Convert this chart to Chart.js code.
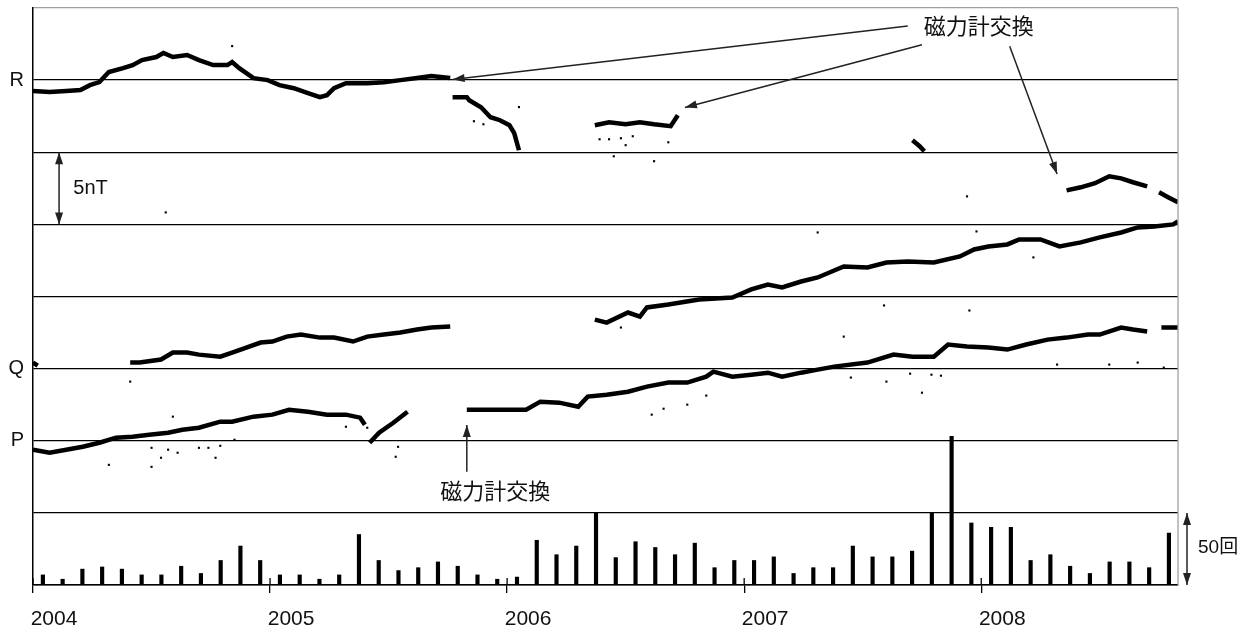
<!DOCTYPE html>
<html>
<head>
<meta charset="utf-8">
<script src="https://cdn.jsdelivr.net/npm/chart.js@4.4.1/dist/chart.umd.min.js"></script>
<style>
  html, body { margin: 0; padding: 0; background: #fff; }
  #wrap { width: 1253px; height: 634px; }
</style>
</head>
<body>
<div id="wrap"><canvas id="grafico"></canvas></div>
<script>
// 年の目盛り
const yearTicks = [2004, 2005, 2006, 2007, 2008];

// 各観測点の基準線 (nT, 5nT 間隔の段)
const laneNames = { 35: 'R', 15: 'Q', 10: 'P' };

// R 観測点: [年, 基準線からの差 nT]  null は欠測
const rTrace = [
  [2004.00,-0.76],[2004.07,-0.83],[2004.14,-0.76],[2004.20,-0.69],[2004.24,-0.35],[2004.28,-0.14],
  [2004.32,0.56],[2004.38,0.83],[2004.42,1.04],[2004.46,1.39],[2004.52,1.60],[2004.55,1.88],
  [2004.59,1.60],[2004.65,1.74],[2004.70,1.39],[2004.76,1.04],[2004.82,1.04],[2004.84,1.25],
  [2004.87,0.83],[2004.93,0.14],[2004.99,0.00],[2005.04,-0.35],[2005.10,-0.56],[2005.16,-0.90],
  [2005.21,-1.18],[2005.24,-1.04],[2005.27,-0.56],[2005.32,-0.21],[2005.41,-0.21],[2005.48,-0.14],
  [2005.55,0.00],[2005.62,0.14],[2005.68,0.28],[2005.76,0.14],
  [2005.765,null],
  [2005.77,-1.18],[2005.83,-1.18],[2005.84,-1.39],[2005.89,-1.88],[2005.93,-2.57],[2005.97,-2.78],
  [2006.01,-3.13],[2006.03,-3.68],[2006.05,-4.86],
  [2006.20,null],
  [2006.37,-3.13],[2006.43,-2.92],[2006.50,-3.06],[2006.56,-2.92],[2006.62,-3.06],[2006.69,-3.19],[2006.72,-2.43],
  [2007.20,null],
  [2007.71,-4.17],[2007.74,-4.58],[2007.76,-4.93],
  [2008.00,null],
  [2008.36,-7.64],[2008.42,-7.43],[2008.48,-7.15],[2008.54,-6.67],[2008.59,-6.81],[2008.64,-7.08],[2008.70,-7.36],
  [2008.72,null],
  [2008.75,-7.78],[2008.79,-8.13],[2008.83,-8.47]
];

// Q 観測点
const qTrace = [
  [2004.00,0.42],[2004.02,0.21],
  [2004.20,null],
  [2004.41,0.42],[2004.45,0.42],[2004.54,0.63],[2004.59,1.11],[2004.65,1.11],[2004.70,0.97],
  [2004.79,0.83],[2004.84,1.11],[2004.90,1.46],[2004.96,1.81],[2005.01,1.88],[2005.07,2.22],
  [2005.13,2.36],[2005.21,2.15],[2005.27,2.15],[2005.35,1.88],[2005.41,2.22],[2005.48,2.36],
  [2005.55,2.50],[2005.62,2.71],[2005.68,2.85],[2005.76,2.92],
  [2006.00,null],
  [2006.37,3.40],[2006.42,3.19],[2006.51,3.89],[2006.56,3.61],[2006.59,4.24],[2006.68,4.44],
  [2006.81,4.79],[2006.95,4.93],[2007.03,5.49],[2007.10,5.83],[2007.16,5.63],[2007.24,6.04],
  [2007.31,6.32],[2007.42,7.08],[2007.52,7.01],[2007.60,7.36],[2007.69,7.43],[2007.80,7.36],
  [2007.91,7.78],[2007.97,8.26],[2008.03,8.47],[2008.11,8.61],[2008.16,8.96],[2008.25,8.96],
  [2008.33,8.47],[2008.42,8.75],[2008.50,9.10],[2008.59,9.44],[2008.66,9.79],[2008.73,9.86],
  [2008.81,10.00],[2008.83,10.21]
];

// P 観測点
const pTrace = [
  [2004.00,-0.63],[2004.07,-0.83],[2004.14,-0.63],[2004.21,-0.42],[2004.28,-0.14],[2004.35,0.21],
  [2004.42,0.28],[2004.49,0.42],[2004.57,0.56],[2004.63,0.76],[2004.70,0.90],[2004.79,1.32],
  [2004.84,1.32],[2004.93,1.67],[2005.01,1.81],[2005.08,2.15],[2005.16,2.01],[2005.24,1.81],
  [2005.32,1.81],[2005.38,1.60],[2005.40,1.11],
  [2005.41,null],
  [2005.42,-0.14],[2005.46,0.56],[2005.52,1.25],[2005.58,2.01],
  [2005.70,null],
  [2005.83,2.15],[2005.97,2.15],[2006.08,2.15],[2006.14,2.71],[2006.22,2.64],[2006.30,2.36],
  [2006.34,3.06],[2006.42,3.19],[2006.51,3.40],[2006.59,3.75],[2006.68,4.03],[2006.76,4.03],
  [2006.84,4.44],[2006.87,4.79],[2006.95,4.44],[2007.03,4.58],[2007.10,4.72],[2007.16,4.44],
  [2007.24,4.72],[2007.31,4.93],[2007.38,5.14],[2007.52,5.42],[2007.63,5.97],[2007.71,5.83],
  [2007.80,5.83],[2007.86,6.67],[2007.94,6.53],[2008.03,6.46],[2008.11,6.32],[2008.19,6.67],
  [2008.28,7.01],[2008.36,7.15],[2008.45,7.36],[2008.50,7.36],[2008.59,7.85],[2008.64,7.71],
  [2008.70,7.57],
  [2008.73,null],
  [2008.76,7.85],[2008.83,7.85]
];

// 飛び値 (図全体の nT 目盛りで)
const outliers = [
  [2004.56,25.83],[2004.84,37.36],[2006.05,33.13],[2006.45,29.72],[2006.62,29.38],[2007.94,26.94],
  [2007.31,24.44],[2007.98,24.51],[2008.22,22.71],[2007.59,19.38],[2007.95,19.03],[2004.41,14.10],
  [2004.32,8.33],[2004.50,8.19],[2004.77,8.82],[2004.59,11.67],[2006.48,17.85],[2006.61,11.81],
  [2006.66,12.22],[2006.76,12.50],[2006.84,13.13],[2007.75,13.33],[2007.79,14.58],[2007.83,14.51],
  [2007.70,14.65],[2008.32,15.28],[2008.54,15.28],[2008.66,15.42],[2008.77,15.07],[2007.42,17.22],
  [2007.45,14.38],[2007.60,14.10],[2006.39,30.90],[2006.43,30.90],[2006.48,30.97],[2006.50,30.49],
  [2006.53,31.11],[2006.68,30.69],[2005.86,32.15],[2005.90,31.94],[2004.50,9.51],[2004.54,8.82],
  [2004.57,9.38],[2004.61,9.17],[2004.70,9.51],[2004.74,9.51],[2004.79,9.65],[2004.85,10.07],
  [2005.32,10.97],[2005.41,10.90],[2005.54,9.58],[2005.53,8.89]
];

// 月ごとの回数 (2004年1月〜2008年10月)
const monthlyCounts = [
  7, 4, 11, 12.5, 11, 7, 7, 13, 8, 17, 27, 17,
  7, 7, 4, 7, 35, 17, 10, 12, 16, 13, 7, 4,
  5.5, 31, 21, 27, 50, 19, 30, 26, 21, 29, 12, 17,
  17, 19.5, 8, 12, 12, 27, 19.5, 19.5, 23.5, 50, 103, 43,
  40, 40, 17, 21, 13, 8, 16, 16, 12, 36
];

function toPoints(trace, base) {
  return trace.map(([t, v]) => ({ x: t, y: v === null ? null : v + base }));
}

function head(ctx, x1, y1, x2, y2) {
  const a = Math.atan2(y2 - y1, x2 - x1), L = 12, W = 4;
  ctx.beginPath();
  ctx.moveTo(x2, y2);
  ctx.lineTo(x2 - L * Math.cos(a) + W * Math.sin(a), y2 - L * Math.sin(a) - W * Math.cos(a));
  ctx.lineTo(x2 - L * Math.cos(a) - W * Math.sin(a), y2 - L * Math.sin(a) + W * Math.cos(a));
  ctx.closePath();
  ctx.fill();
}

function arrow(ctx, x1, y1, x2, y2, both) {
  ctx.beginPath();
  ctx.moveTo(x1, y1);
  ctx.lineTo(x2, y2);
  ctx.stroke();
  head(ctx, x1, y1, x2, y2);
  if (both) head(ctx, x2, y2, x1, y1);
}

// 注記 (矢印と文字)
const notas = {
  id: 'notas',
  afterDraw(chart) {
    const { ctx, chartArea, scales: { x, y } } = chart;
    const X = v => x.getPixelForValue(v);
    const Y = v => y.getPixelForValue(v);
    ctx.save();
    // 右の枠
    ctx.strokeStyle = '#a0a0a0';
    ctx.lineWidth = 1.3;
    ctx.beginPath();
    ctx.moveTo(chartArea.right, chartArea.top);
    ctx.lineTo(chartArea.right, chartArea.bottom);
    ctx.stroke();

    // 年の目盛りは軸の内側にも少し出す
    ctx.strokeStyle = '#000';
    yearTicks.forEach(t => {
      ctx.beginPath();
      ctx.moveTo(X(t), chartArea.bottom - 7);
      ctx.lineTo(X(t), chartArea.bottom);
      ctx.stroke();
    });

    ctx.strokeStyle = '#222';
    ctx.fillStyle = '#222';
    ctx.lineWidth = 1.5;
    arrow(ctx, X(2007.69), Y(38.75), X(2005.77), Y(35.05));
    arrow(ctx, X(2007.75), Y(37.45), X(2006.75), Y(33.1));
    arrow(ctx, X(2008.12), Y(37.35), X(2008.32), Y(28.5));
    arrow(ctx, X(2005.83), Y(7.85), X(2005.83), Y(11.1));
    arrow(ctx, X(2004.11), Y(30), X(2004.11), Y(25), true);
    arrow(ctx, chartArea.right + 9, Y(5), chartArea.right + 9, Y(0), true);

    ctx.fillStyle = '#111';
    ctx.textBaseline = 'middle';
    ctx.textAlign = 'center';
    ctx.font = '22px "Noto Sans CJK JP"';
    ctx.fillText('磁力計交換', X(2007.99), Y(38.75));
    ctx.fillText('磁力計交換', X(2005.95), Y(6.55));
    ctx.textAlign = 'left';
    ctx.font = '20px "Liberation Sans", Arial, sans-serif';
    ctx.fillText('5nT', X(2004.17), Y(27.5));
    ctx.font = '19px "Liberation Sans", "Noto Sans CJK JP", sans-serif';
    ctx.fillText('50回', chartArea.right + 20, Y(2.6));
    ctx.restore();
  }
};

const lineBase = {
  type: 'line',
  borderColor: '#000',
  borderWidth: 4.5,
  pointRadius: 0,
  spanGaps: false,
  tension: 0,
  yAxisID: 'y'
};

new Chart(document.getElementById('grafico').getContext('2d'), {
  type: 'line',
  data: {
    datasets: [
      { ...lineBase, label: 'R', data: toPoints(rTrace, 35) },
      { ...lineBase, label: 'Q', data: toPoints(qTrace, 15) },
      { ...lineBase, label: 'P', data: toPoints(pTrace, 10) },
      {
        type: 'scatter',
        label: 'outliers',
        data: outliers.map(([t, v]) => ({ x: t, y: v })),
        pointStyle: 'rect',
        pointRadius: 1.5,
        backgroundColor: '#000',
        borderWidth: 0,
        yAxisID: 'y'
      },
      {
        type: 'bar',
        label: '回数',
        data: monthlyCounts.map((c, i) => ({ x: 2004 + (i + 0.5) / 12, y: c })),
        backgroundColor: '#000',
        barThickness: 3.5,
        yAxisID: 'y2'
      }
    ]
  },
  options: {
    responsive: true,
    maintainAspectRatio: false,
    animation: false,
    layout: { padding: { top: 8, right: 75, left: 0, bottom: 0 } },
    plugins: { legend: { display: false }, tooltip: { enabled: false } },
    scales: {
      x: {
        type: 'linear',
        min: 2004,
        max: 2008.83,
        offset: false,
        afterBuildTicks: s => { s.ticks = yearTicks.map(v => ({ value: v })); },
        afterFit: s => { s.height = 49; s.paddingLeft = 0; s.paddingRight = 0; },
        ticks: {
          callback: v => String(v),
          font: { family: 'Liberation Sans', size: 21 },
          color: '#111',
          labelOffset: 21,
          padding: 14,
          maxRotation: 0,
          autoSkip: false
        },
        grid: { offset: false, drawOnChartArea: false, drawTicks: true, tickLength: 8, color: '#000', lineWidth: 1.3 },
        border: { display: true, color: '#000', width: 1.5 }
      },
      y: {
        min: 0,
        max: 40,
        ticks: {
          stepSize: 5,
          callback: v => laneNames[v] || '',
          font: { family: 'Liberation Sans', size: 20 },
          color: '#111',
          padding: 9
        },
        afterFit: s => { s.width = 33; s.paddingTop = 0; s.paddingBottom = 0; },
        grid: {
          color: c => c.tick.value === 40 ? '#a0a0a0' : '#000',
          lineWidth: 1.3,
          drawTicks: false
        },
        border: { display: true, color: '#000', width: 1.5 }
      },
      y2: { display: false, min: 0, max: 400 }
    }
  },
  plugins: [notas]
});
</script>
</body>
</html>
